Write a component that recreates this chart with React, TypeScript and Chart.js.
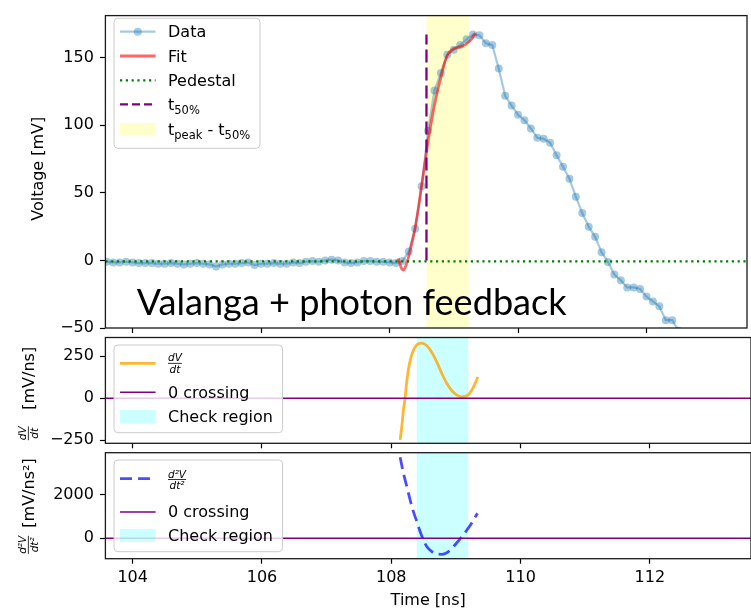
import React, { useEffect, useRef } from 'react';
import { Chart, registerables } from 'chart.js';

Chart.register(...registerables);

const FONT = '"DejaVu Sans", sans-serif';
const W = 751;
const H = 610;
const AXIS_W = 105.4;

// ---------- axes ----------
const xTicks = [104, 106, 108, 110, 112];
const X_MIN = 103.578;
const X_MAX = 113.564;
const topYTicks = [-50, 0, 50, 100, 150];
const midYTicks = [-250, 0, 250];
const botYTicks = [0, 2000];

// ---------- measured waveform (Time [ns], Voltage [mV]) ----------
const dataT = [
  103.5, 103.6, 103.7, 103.8, 103.9,
  104.0, 104.1, 104.2, 104.3, 104.4, 104.5, 104.6, 104.7, 104.8, 104.9,
  105.0, 105.1, 105.2, 105.3, 105.4, 105.5, 105.6, 105.7, 105.8, 105.9,
  106.0, 106.1, 106.2, 106.3, 106.4, 106.5, 106.6, 106.7, 106.8, 106.9,
  107.0, 107.1, 107.2, 107.3, 107.4, 107.5, 107.6, 107.7, 107.8, 107.9,
  108.0, 108.1, 108.2, 108.3, 108.4, 108.5, 108.6, 108.7, 108.8, 108.9,
  109.0, 109.1, 109.2, 109.3, 109.4, 109.5, 109.6, 109.7, 109.8, 109.9,
  110.0, 110.1, 110.2, 110.3, 110.4, 110.5, 110.6, 110.7, 110.8, 110.9,
  111.0, 111.1, 111.2, 111.3, 111.4, 111.5, 111.6, 111.7, 111.8, 111.9,
  112.0, 112.1, 112.2, 112.3, 112.4, 112.5, 112.6,
];
const dataV = [
  -1, -1, -1.5, -1.5, -1,
  -1.5, -2, -2, -2, -2.5, -2.5, -2, -2.5, -3, -2.5,
  -2, -2.5, -3, -4.5, -3, -2.5, -2.5, -2, -1.5, -3.5,
  -2.5, -2.5, -2, -2.5, -2.5, -1.5, -2, -1, -0.5, -1,
  0, 0.5, 0, -1.5, -2, -1.5, -0.5, -0.5, -1, -1,
  -1.5, -2, -0.5, 6.5, 23.4, 54.8, 95.9, 125.6, 138.6, 152,
  155.8, 159.2, 163.5, 167, 166.4, 160.6, 159.2, 141.8, 121.7, 114.5,
  107.7, 103.6, 97.6, 90.6, 89.9, 87, 77.8, 69.3, 60.4, 47.1,
  35, 24.9, 17.4, 6, -1.2, -10.4, -14.7, -20, -20, -21.2,
  -26.8, -30.4, -34, -44.2, -44.2, -52, -58,
];

// ---------- fit ----------
const fitT = [
  108.137, 108.188, 108.215, 108.241, 108.292, 108.342, 108.396, 108.447, 108.498, 108.551,
  108.602, 108.653, 108.706, 108.757, 108.808, 108.86, 108.911, 108.989, 109.066, 109.143,
  109.221, 109.272, 109.325, 109.34,
];
const fitV = [
  1.5, -6, -7, -5.6, 1.7, 11.4, 23.4, 37.9, 54.8, 71.7,
  88.6, 103, 116.4, 127.3, 137, 146.6, 152.7, 156.3, 157.5, 158.7,
  161.1, 163.5, 167.2, 168,
];
const PEDESTAL = -0.7;
const T50 = 108.575;
const T50_TOP = 167;
const T_PEAK = 109.233;

// ---------- first derivative [mV/ns] ----------
const dVT = [
  108.137, 108.163, 108.188, 108.215, 108.241, 108.281, 108.328, 108.396, 108.473, 108.551,
  108.628, 108.705, 108.783, 108.86, 108.938, 109.015, 109.092, 109.17, 109.247, 109.34,
];
const dVV = [
  -248, -167, -69, 9, 107, 205, 273, 319, 329, 313,
  273, 215, 147, 88, 45, 19, 9, 15, 49, 127,
];

// ---------- second derivative [mV/ns^2] ----------
const d2T = [
  108.137, 108.188, 108.241, 108.292, 108.342, 108.396, 108.447, 108.498, 108.551, 108.628,
  108.705, 108.783, 108.86, 108.938, 109.015, 109.092, 109.17, 109.247, 109.332,
];
const d2V = [
  3720, 2982, 2367, 1757, 1220, 761, 303, -78, -385, -615,
  -720, -734, -661, -459, -202, 73, 381, 716, 1147,
];

const CHECK_START = 108.393;
const CHECK_END = 109.191;

// ---------- colours ----------
const C_DATA = 'rgba(31,119,180,0.4)';
const C_FIT = 'rgba(255,0,0,0.6)';
const C_PED = 'green';
const C_T50 = 'purple';
const C_SPAN_Y = 'rgba(255,255,0,0.2)';
const C_SPAN_C = 'rgba(0,255,255,0.2)';
const C_DV = 'rgba(255,165,0,0.8)';
const C_D2V = 'rgba(0,0,255,0.7)';
const C_ZERO = 'purple';

const pts = (xs: number[], ys: number[]) => xs.map((x, i) => ({ x, y: ys[i] }));
const minusFmt = (v: number) => (v < 0 ? '\u2212' + Math.abs(v) : String(v));

function txt(ctx: CanvasRenderingContext2D, s: string, x: number, y: number, size = 16, align: CanvasTextAlign = 'left', style = '') {
  ctx.font = `${style} ${size}px ${FONT}`;
  ctx.textAlign = align;
  ctx.textBaseline = 'alphabetic';
  ctx.fillStyle = '#000';
  ctx.fillText(s, x, y);
  return ctx.measureText(s).width;
}

function frac(ctx: CanvasRenderingContext2D, num: string, den: string, x: number, barY: number, size: number, align: 'left' | 'center') {
  ctx.font = `italic ${size}px ${FONT}`;
  const w = Math.max(ctx.measureText(num).width, ctx.measureText(den).width);
  const x0 = align === 'left' ? x : x - w / 2;
  ctx.fillStyle = '#000';
  ctx.textAlign = 'center';
  ctx.textBaseline = 'alphabetic';
  ctx.fillText(num, x0 + w / 2, barY - 2);
  ctx.fillText(den, x0 + w / 2, barY + size * 0.73 + 2.2);
  ctx.fillRect(x0, barY - 0.4, w, 0.8);
}

function legendBox(ctx: CanvasRenderingContext2D, x: number, y: number, w: number, h: number) {
  ctx.save();
  ctx.beginPath();
  (ctx as any).roundRect(x, y, w, h, 4);
  ctx.fillStyle = 'rgba(255,255,255,0.8)';
  ctx.fill();
  ctx.strokeStyle = '#cccccc';
  ctx.lineWidth = 1;
  ctx.stroke();
  ctx.restore();
}

const HX0 = 120;
const HX1 = 155.6;
const LX = 168;

function hLine(ctx: CanvasRenderingContext2D, y: number, color: string, width: number, dash: number[] = []) {
  ctx.save();
  ctx.strokeStyle = color;
  ctx.lineWidth = width;
  ctx.setLineDash(dash);
  ctx.beginPath();
  ctx.moveTo(HX0, y);
  ctx.lineTo(HX1, y);
  ctx.stroke();
  ctx.restore();
}

function hPatch(ctx: CanvasRenderingContext2D, y0: number, h: number, color: string) {
  ctx.fillStyle = color;
  ctx.fillRect(HX0, y0, HX1 - HX0, h);
}

function rotated(ctx: CanvasRenderingContext2D, fn: () => void) {
  ctx.save();
  ctx.rotate(-Math.PI / 2);
  fn();
  ctx.restore();
}

type Panel = {
  name: string;
  top: number;
  bottom: number;
  yMin: number;
  yMax: number;
  yTicks: number[];
  showX: boolean;
  spans: { from: number; to: number; color: string }[];
  datasets: any[];
  overlay: (ctx: CanvasRenderingContext2D, chart: any) => void;
};

const tickGrid = (len: number) => ({
  display: true,
  drawOnChartArea: false,
  drawTicks: true,
  tickLength: len,
  tickColor: '#000',
  tickWidth: 1.2,
});

function decor(p: Panel) {
  return {
    id: 'decor_' + p.name,
    beforeDatasetsDraw(chart: any) {
      const { ctx, chartArea: a, scales } = chart;
      ctx.save();
      ctx.beginPath();
      ctx.rect(a.left, a.top, a.right - a.left, a.bottom - a.top);
      ctx.clip();
      for (const s of p.spans) {
        const x0 = scales.x.getPixelForValue(s.from);
        const x1 = scales.x.getPixelForValue(s.to);
        ctx.fillStyle = s.color;
        ctx.fillRect(x0, a.top, x1 - x0, a.bottom - a.top);
      }
      ctx.restore();
    },
    afterDraw(chart: any) {
      const { ctx, chartArea: a } = chart;
      ctx.save();
      ctx.strokeStyle = '#1a1a1a';
      ctx.lineWidth = 1.3;
      ctx.strokeRect(a.left, a.top, a.right - a.left, a.bottom - a.top);
      ctx.restore();
      ctx.save();
      p.overlay(ctx, chart);
      ctx.restore();
    },
  };
}

function buildChart(canvas: HTMLCanvasElement, p: Panel) {
  return new Chart(canvas, {
    type: 'line',
    data: { datasets: p.datasets },
    options: {
      responsive: false,
      animation: false,
      devicePixelRatio: 1,
      events: [],
      layout: { padding: { top: p.top, bottom: 0, left: 0, right: 0 } },
      plugins: { legend: { display: false }, tooltip: { enabled: false }, title: { display: false } },
      scales: {
        x: {
          type: 'linear',
          min: X_MIN,
          max: X_MAX,
          afterBuildTicks: (s: any) => { s.ticks = xTicks.map((v) => ({ value: v })); },
          afterFit: (s: any) => { s.height = H - p.bottom; },
          grid: tickGrid(5),
          border: { display: false },
          ticks: {
            display: p.showX,
            color: '#000',
            font: { family: FONT, size: 16 },
            padding: 5,
            autoSkip: false,
            maxRotation: 0,
            minRotation: 0,
          },
        },
        y: {
          type: 'linear',
          min: p.yMin,
          max: p.yMax,
          afterBuildTicks: (s: any) => { s.ticks = p.yTicks.map((v) => ({ value: v })); },
          afterFit: (s: any) => { s.width = AXIS_W; },
          grid: tickGrid(5.5),
          border: { display: false },
          ticks: {
            color: '#000',
            font: { family: FONT, size: 16 },
            padding: 6,
            callback: (v: any) => minusFmt(Number(v)),
          },
        },
      },
    } as any,
    plugins: [decor(p) as any],
  });
}

const line = (data: any[], color: string, width: number, extra: any = {}) => ({
  data,
  borderColor: color,
  backgroundColor: color,
  borderWidth: width,
  pointRadius: 0,
  clip: 0,
  tension: 0,
  ...extra,
});

const topPanel: Panel = {
  name: 'top',
  top: 9.5,
  bottom: 328,
  yMin: -50,
  yMax: 181,
  yTicks: topYTicks,
  showX: false,
  spans: [{ from: T50, to: T_PEAK, color: C_SPAN_Y }],
  datasets: [
    line(pts(dataT, dataV), C_DATA, 2.2, { pointRadius: 4, pointBorderWidth: 0, pointBackgroundColor: C_DATA, order: 4 }),
    line(pts(fitT, fitV), C_FIT, 2.8, { cubicInterpolationMode: 'monotone', order: 3 }),
    line([{ x: X_MIN, y: PEDESTAL }, { x: X_MAX, y: PEDESTAL }], C_PED, 2.2, { borderDash: [2.2, 3.6], order: 2 }),
    line([{ x: T50, y: 0 }, { x: T50, y: T50_TOP }], C_T50, 2.3, { borderDash: [13, 5], order: 1 }),
  ],
  overlay: (ctx) => {
    // annotation text
    ctx.font = `100px Lato, "Open Sans", sans-serif`;
    const label = 'Valanga + photon feedback';
    const w100 = ctx.measureText(label).width;
    const size = (100 * 430) / w100;
    ctx.font = `${size}px Lato, "Open Sans", sans-serif`;
    ctx.fillStyle = '#000';
    ctx.textAlign = 'left';
    ctx.textBaseline = 'alphabetic';
    ctx.fillText(label, 136.7, 315);

    // legend
    legendBox(ctx, 114, 18.3, 146, 130);
    hLine(ctx, 31.7, C_DATA, 2.2);
    ctx.fillStyle = C_DATA;
    ctx.beginPath();
    ctx.arc((HX0 + HX1) / 2, 31.7, 4, 0, Math.PI * 2);
    ctx.fill();
    txt(ctx, 'Data', LX, 37);
    hLine(ctx, 56, C_FIT, 2.8);
    txt(ctx, 'Fit', LX, 61.5);
    hLine(ctx, 80.3, C_PED, 2.2, [2.2, 3.6]);
    txt(ctx, 'Pedestal', LX, 86);
    hLine(ctx, 104.3, C_T50, 2.3, [8, 4]);
    let x = LX;
    x += txt(ctx, 't', x, 110);
    txt(ctx, '50%', x, 113.5, 11.5);
    hPatch(ctx, 123, 12.5, C_SPAN_Y);
    x = LX;
    x += txt(ctx, 't', x, 135);
    x += txt(ctx, 'peak', x, 138.5, 11.5);
    x += txt(ctx, ' - t', x, 135);
    txt(ctx, '50%', x, 138.5, 11.5);

    // y title
    rotated(ctx, () => {
      txt(ctx, 'Voltage [mV]', -168.75, 43.4, 16, 'center');
    });
  },
};

const midPanel: Panel = {
  name: 'mid',
  top: 337.5,
  bottom: 443.3,
  yMin: -268,
  yMax: 362,
  yTicks: midYTicks,
  showX: false,
  spans: [{ from: CHECK_START, to: CHECK_END, color: C_SPAN_C }],
  datasets: [
    line(pts(dVT, dVV), C_DV, 2.8, { cubicInterpolationMode: 'monotone', order: 2 }),
    line([{ x: X_MIN, y: 0 }, { x: X_MAX, y: 0 }], C_ZERO, 1.5, { order: 1 }),
  ],
  overlay: (ctx) => {
    legendBox(ctx, 114, 345, 168.6, 87.7);
    hLine(ctx, 363.3, C_DV, 2.8);
    frac(ctx, 'dV', 'dt', LX, 363.3, 10.5, 'left');
    hLine(ctx, 392.3, C_ZERO, 1.5);
    txt(ctx, '0 crossing', LX, 397.5);
    hPatch(ctx, 410, 13.3, C_SPAN_C);
    txt(ctx, 'Check region', LX, 421.5);

    rotated(ctx, () => {
      txt(ctx, '[mV/ns]', -378.3, 33.5, 16, 'center');
      frac(ctx, 'dV', 'dt', -433.3, 28.3, 10.5, 'center');
    });
  },
};

const botPanel: Panel = {
  name: 'bot',
  top: 452.7,
  bottom: 558.7,
  yMin: -936,
  yMax: 3927,
  yTicks: botYTicks,
  showX: true,
  spans: [{ from: CHECK_START, to: CHECK_END, color: C_SPAN_C }],
  datasets: [
    line(pts(d2T, d2V), C_D2V, 2.8, { cubicInterpolationMode: 'monotone', borderDash: [12, 6], order: 2 }),
    line([{ x: X_MIN, y: 0 }, { x: X_MAX, y: 0 }], C_ZERO, 1.5, { order: 1 }),
  ],
  overlay: (ctx) => {
    legendBox(ctx, 114, 460, 168.6, 91.7);
    hLine(ctx, 478.6, C_D2V, 2.8, [12, 6]);
    frac(ctx, 'd\u00B2V', 'dt\u00B2', LX, 479.6, 10.5, 'left');
    hLine(ctx, 512, C_ZERO, 1.5);
    txt(ctx, '0 crossing', LX, 517.3);
    hPatch(ctx, 529, 13, C_SPAN_C);
    txt(ctx, 'Check region', LX, 540.5);

    rotated(ctx, () => {
      txt(ctx, '[mV/ns\u00B2]', -493, 33.5, 16, 'center');
      frac(ctx, 'd\u00B2V', 'dt\u00B2', -544.8, 28.3, 10.5, 'center');
    });

    // x title
    txt(ctx, 'Time [ns]', 428.2, 605, 16, 'center');
  },
};

const panels = [topPanel, midPanel, botPanel];

export default function App() {
  const refs = [useRef<HTMLCanvasElement>(null), useRef<HTMLCanvasElement>(null), useRef<HTMLCanvasElement>(null)];

  useEffect(() => {
    Chart.defaults.font.family = FONT;
    const charts = panels.map((p, i) => buildChart(refs[i].current as HTMLCanvasElement, p));
    return () => charts.forEach((c) => c.destroy());
  }, []);

  return (
    <div style={{ position: 'absolute', left: 0, top: 0, width: W, height: H, background: '#fff', overflow: 'hidden' }}>
      {panels.map((p, i) => (
        <canvas
          key={p.name}
          ref={refs[i]}
          width={W}
          height={H}
          style={{ position: 'absolute', left: 0, top: 0, width: W, height: H }}
        />
      ))}
    </div>
  );
}
